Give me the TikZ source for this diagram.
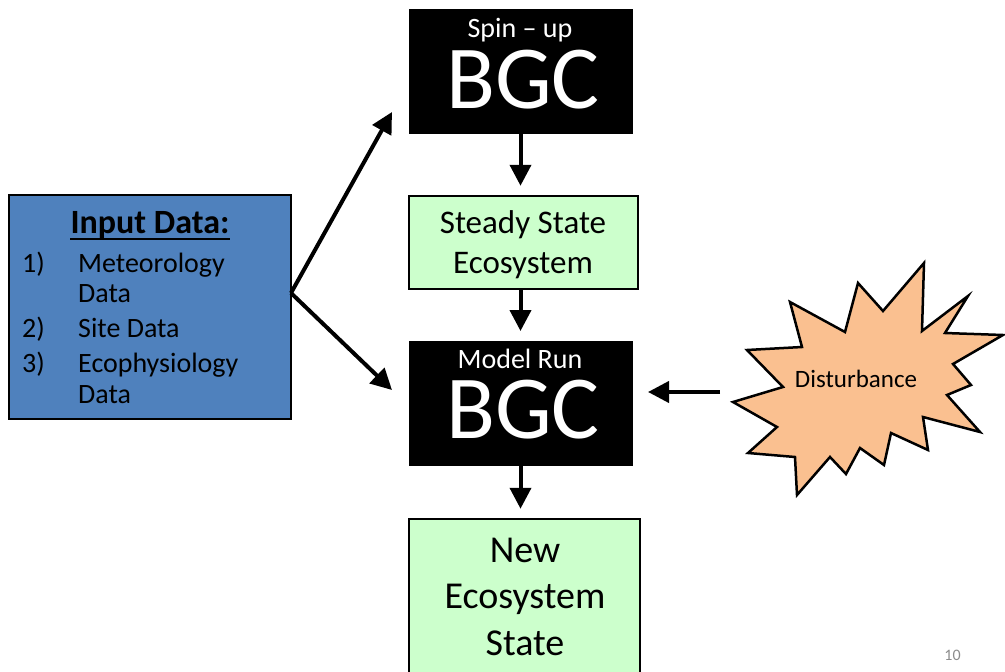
\documentclass[tikz,border=0pt]{standalone}
\usepackage{fontspec}
\setmainfont{Carlito}
\usetikzlibrary{arrows.meta}
\definecolor{inblue}{HTML}{4F81BD}
\definecolor{palegreen}{HTML}{CCFFCC}
\definecolor{peach}{HTML}{FAC090}
\definecolor{pagegray}{HTML}{8C8C8C}
\newcommand{\fsz}[2]{\fontsize{#1}{#2}\selectfont}

\begin{document}
\begin{tikzpicture}[x=1pt,y=-1pt,
  bgcbox/.style={draw=black, fill=black, line width=1pt, inner sep=0pt,
    minimum width=223pt, minimum height=124pt},
  greenbox/.style={draw=black, fill=palegreen, line width=2.5pt, inner sep=0pt},
  inputbox/.style={draw=black, fill=inblue, line width=2.5pt, inner sep=0pt,
    minimum width=282pt, minimum height=224pt},
  whitetxt/.style={anchor=base, inner sep=0pt, text=white},
  blacktxt/.style={anchor=base, inner sep=0pt, text=black},
  listtxt/.style={anchor=base west, inner sep=0pt, text=black, font=\fsz{28}{34}},
  flow/.style={line width=4pt, -{Triangle[length=21pt,width=21pt]}},
  burst/.style={draw=black, fill=peach, line width=2.5pt, line join=miter}]

\useasboundingbox (0,0) rectangle (1005,672);

% Spin-up model block
\node[bgcbox] (spin) at (520.5,71) {};
\node[whitetxt, font=\fsz{28}{34}] (spinlbl) at (520,37) {Spin -- up};
\node[whitetxt, font=\fsz{90}{104}] (spinbgc) at (523,108) {BGC};

% Steady state result
\node[greenbox, minimum width=229pt, minimum height=93pt] (steady) at (523.5,242.5) {};
\node[blacktxt, font=\fsz{33}{40}] (steady1) at (523,233) {Steady State};
\node[blacktxt, font=\fsz{33}{40}] (steady2) at (523,273) {Ecosystem};

% Model run block
\node[bgcbox] (model) at (520.5,403.5) {};
\node[whitetxt, font=\fsz{28}{34}] (modellbl) at (520,368) {Model Run};
\node[whitetxt, font=\fsz{90}{104}] (modelbgc) at (523,438) {BGC};

% New ecosystem state (runs off the lower edge)
\node[greenbox, minimum width=231pt, minimum height=162pt] (newstate) at (524.5,600) {};
\node[blacktxt, font=\fsz{38}{46}] (new1) at (525,562) {New};
\node[blacktxt, font=\fsz{38}{46}] (new2) at (525,608) {Ecosystem};
\node[blacktxt, font=\fsz{38}{46}] (new3) at (525,655) {State};

% Input data panel
\node[inputbox] (input) at (150,307) {};
\node[blacktxt, font=\fsz{34}{40}\bfseries] (head) at (150,233) {Input Data:};
\draw[line width=2pt] ([yshift=-6pt]head.base west) -- ([yshift=-6pt]head.base east);
\node[listtxt] (n1) at (22,272) {1)};
\node[listtxt] (t1) at (78,272) {Meteorology};
\node[listtxt] (t1b) at (78,302) {Data};
\node[listtxt] (n2) at (22,337) {2)};
\node[listtxt] (t2) at (78,337) {Site Data};
\node[listtxt] (n3) at (22,372) {3)};
\node[listtxt] (t3) at (78,372) {Ecophysiology};
\node[listtxt] (t3b) at (78,403) {Data};

% Disturbance starburst
\draw[burst] (733,402) -- (783,387) -- (747,350) -- (802,347) -- (790,302)
  -- (845,332) -- (858,283) -- (883,311) -- (924,263) -- (922,331)
  -- (968,296) -- (945,333) -- (1003,335) -- (953,364) -- (971,385)
  -- (947,395) -- (980,432) -- (923,417) -- (928,450) -- (891,433)
  -- (884,465) -- (860,448) -- (846,474) -- (830,457) -- (797,495)
  -- (795,457) -- (748,453) -- (777,427) -- cycle;
\node[blacktxt, font=\fsz{25}{30}] (dist) at (856,387) {Disturbance};

% Page number
\node[anchor=base, inner sep=0pt, text=pagegray, font=\fsz{16}{19}] (pagenum) at (952.5,660) {10};

% Connectors
\coordinate (fork) at (291,293);
\coordinate (uptip) at (392,112);
\coordinate (downtip) at (392,390);
\coordinate (disttail) at (720,392);
\coordinate (disttip) at (648,392);

\draw[flow] (fork) -- (uptip);
\draw[flow] (fork) -- (downtip);
\draw[flow, shorten >=9pt] (spin.south) -- (steady.north -| spin.south);
\draw[flow, shorten >=10pt] (steady.south -| spin.south) -- (model.north);
\draw[flow, shorten >=9pt] (model.south) -- (newstate.north -| model.south);
\draw[flow] (disttail) -- (disttip);

\end{tikzpicture}
\end{document}
